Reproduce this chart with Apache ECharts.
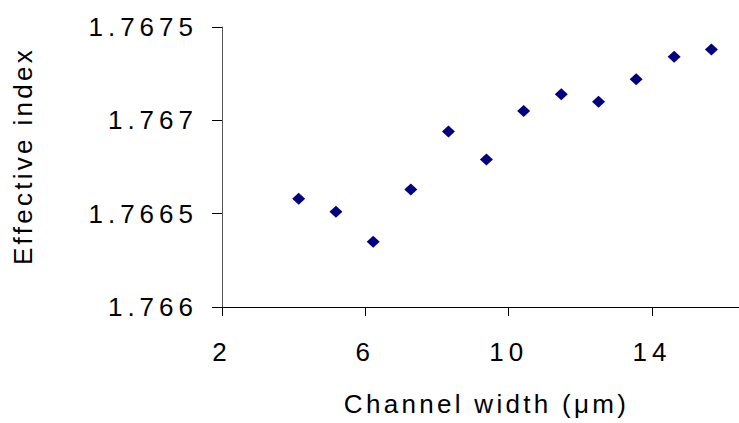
<!DOCTYPE html>
<html>
<head>
<meta charset="utf-8">
<script src="https://cdn.jsdelivr.net/npm/echarts@6/dist/echarts.min.js"></script>
<style>
  html, body { margin: 0; padding: 0; background: #fff; }
  #chart { width: 739px; height: 423px; }
</style>
</head>
<body>
<div id="chart"></div>
<script>
// Channel width (µm) of each measured waveguide
const channelWidth = [4.14, 5.18, 6.22, 7.27, 8.32, 9.38, 10.42, 11.47, 12.51, 13.56, 14.62, 15.66];
// Effective index measured for each channel
const effectiveIndex = [1.76658, 1.76651, 1.76635, 1.76663, 1.76694, 1.76679, 1.76705, 1.76714, 1.76710, 1.76722, 1.76734, 1.76738];
// Axis ticks
const xTicks = [2, 6, 10, 14];
const yTicks = [1.766, 1.7665, 1.767, 1.7675];

const points = channelWidth.map((w, i) => [w, effectiveIndex[i]]);
const FONT = 'Liberation Sans, Arial, sans-serif';

const chart = echarts.init(document.getElementById('chart'), null, { renderer: 'svg' });
chart.setOption({
  animation: false,
  backgroundColor: '#ffffff',
  grid: { left: 222, right: 0, top: 27, bottom: 116, containLabel: false },
  xAxis: {
    type: 'value',
    min: 2,
    max: 16.43,
    name: 'Channel width (\u03bcm)',
    nameLocation: 'middle',
    nameGap: 84,
    nameTextStyle: { fontFamily: FONT, fontSize: 26, color: '#000', padding: [0, 0, 0, 12] },
    axisLine: { onZero: false, lineStyle: { color: '#000', width: 1 } },
    axisTick: { show: true, inside: false, length: 9, customValues: xTicks, lineStyle: { color: '#000' } },
    axisLabel: { customValues: xTicks, margin: 32, fontFamily: FONT, fontSize: 26, color: '#000' },
    splitLine: { show: false }
  },
  yAxis: {
    type: 'value',
    min: 1.766,
    max: 1.7675,
    name: 'Effective index',
    nameLocation: 'middle',
    nameGap: 186,
    nameTextStyle: { fontFamily: FONT, fontSize: 26, color: '#000', padding: [0, 0, 0, 22] },
    axisLine: { onZero: false, lineStyle: { color: '#555', width: 1 } },
    axisTick: { show: true, inside: false, length: 10, customValues: yTicks, lineStyle: { color: '#000' } },
    axisLabel: {
      customValues: yTicks,
      margin: 24,
      fontFamily: FONT,
      fontSize: 26,
      color: '#000',
      formatter: v => String(+v.toFixed(4))
    },
    splitLine: { show: false }
  },
  series: [{
    type: 'scatter',
    data: points,
    symbol: 'diamond',
    symbolSize: [13, 12],
    itemStyle: { color: '#000080', opacity: 1 }
  }]
});

// Wide character spacing on the axis texts
function spaceText() {
  document.querySelectorAll('#chart svg text').forEach(t => {
    const s = t.textContent || '';
    t.style.letterSpacing = /^[0-9.]+$/.test(s) ? '5px' : '3.3px';
  });
}
chart.on('finished', spaceText);
setTimeout(spaceText, 50);
</script>
</body>
</html>
